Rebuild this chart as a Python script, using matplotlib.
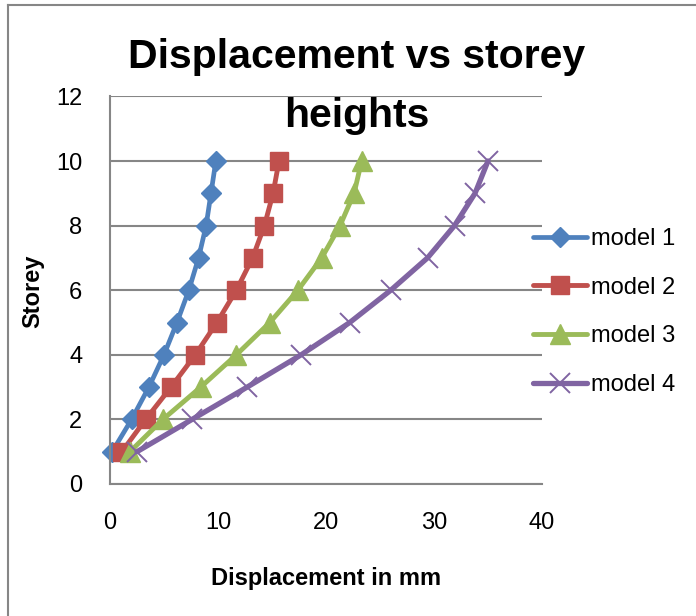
import matplotlib
matplotlib.use("Agg")
import matplotlib.pyplot as plt
from matplotlib.lines import Line2D

plt.rcParams['font.family'] = ['Liberation Sans Narrow', 'Liberation Sans', 'DejaVu Sans']

storey = [1, 2, 3, 4, 5, 6, 7, 8, 9, 10]
model1 = [0.2, 2.0, 3.6, 5.0, 6.2, 7.3, 8.2, 8.9, 9.35, 9.8]
model2 = [1.1, 3.3, 5.65, 7.9, 9.9, 11.7, 13.2, 14.3, 15.1, 15.65]
model3 = [1.85, 4.9, 8.4, 11.7, 14.8, 17.4, 19.6, 21.3, 22.6, 23.3]
model4 = [2.5, 7.6, 12.7, 17.7, 22.2, 26.0, 29.4, 31.9, 33.8, 35.0]
labels = ['model 1', 'model 2', 'model 3', 'model 4']
x_ticks = [0, 10, 20, 30, 40]
y_ticks = [0, 2, 4, 6, 8, 10, 12]

W, H = 696, 616
fig = plt.figure(figsize=(W / 100, H / 100), dpi=100)
ax = fig.add_axes([110 / W, 1 - 484 / H, 432 / W, (484 - 96.4) / H])

gray = '#868686'
styles = [
    dict(color='#4F81BD', marker='D', markersize=10.5, lw=3.4),
    dict(color='#C0504D', marker='s', markersize=13.5, lw=3.5),
    dict(color='#9BBB59', marker='^', markersize=14.5, lw=3.5),
    dict(color='#8064A2', marker='x', markersize=14.5, lw=3.8, markeredgewidth=1.4),
]
for xs, lab, st in zip([model1, model2, model3, model4], labels, styles):
    ax.plot(xs, storey, label=lab, solid_capstyle='round', clip_on=False, **st)

ax.set_xlim(0, 40)
ax.set_ylim(0, 12)
ax.set_xticks(x_ticks)
ax.set_yticks(y_ticks)
ax.tick_params(axis='both', length=0, labelsize=17)
ax.tick_params(axis='x', pad=20)
ax.tick_params(axis='y', pad=20)
ax.yaxis.grid(True, color=gray, lw=1.5)
ax.set_axisbelow(True)
for s in ['top', 'right']:
    ax.spines[s].set_visible(False)
for s in ['left', 'bottom']:
    ax.spines[s].set_color(gray)
    ax.spines[s].set_linewidth(1.5)

fig.text(357 / W, 1 - 68 / H, 'Displacement vs storey', ha='center', va='baseline',
         fontsize=29.5, fontweight='bold')
fig.text(357 / W, 1 - 127 / H, 'heights', ha='center', va='baseline',
         fontsize=29.5, fontweight='bold')
fig.text(326 / W, 1 - 578 / H, 'Displacement in mm', ha='center', va='center',
         fontsize=17, fontweight='bold')
fig.text(33 / W, 1 - 291 / H, 'Storey', ha='center', va='center', rotation=90,
         fontsize=17, fontweight='bold')

fig.legend(loc='center left', bbox_to_anchor=(533 / W, 1 - 312 / H), frameon=False,
           fontsize=17, borderpad=0, handlelength=2.3, handletextpad=0.15,
           labelspacing=1.13, borderaxespad=0)

fig.add_artist(Line2D([8 / W, 8 / W], [-0.1, 1 - 5 / H], color=gray, lw=1.5))
fig.add_artist(Line2D([8 / W, 1.1], [1 - 5 / H, 1 - 5 / H], color=gray, lw=1.5))

fig.savefig('out.png', dpi=100)
